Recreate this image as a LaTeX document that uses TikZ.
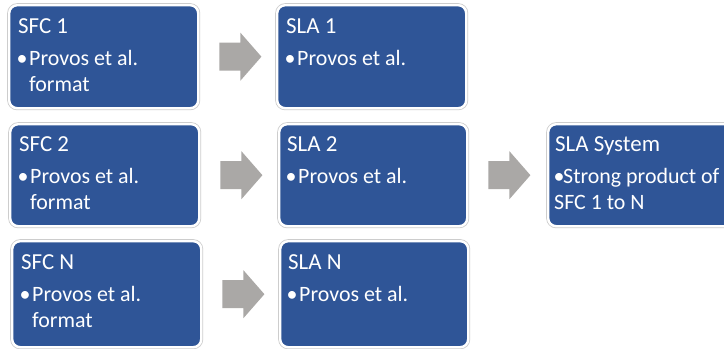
\documentclass[tikz,border=0pt]{standalone}
\usepackage{fontspec}
\setmainfont{Carlito}
\usetikzlibrary{calc}
\definecolor{boxblue}{RGB}{47,85,151}
\definecolor{arrgray}{RGB}{170,168,166}
\definecolor{rimgray}{RGB}{205,205,205}
\tikzset{
  box/.style={anchor=north west, rectangle, rounded corners=8bp, fill=boxblue,
    draw=white, line width=2.4bp, inner sep=0pt,
    preaction={draw=rimgray, line width=4bp}},
  ttl/.style={anchor=base west, inner sep=0pt, text=white, font=\fontsize{23}{27}\selectfont},
  bod/.style={anchor=base west, inner sep=0pt, text=white, font=\fontsize{22}{26}\selectfont},
  bul/.style={anchor=base, inner sep=0pt, text=white, font=\fontsize{22}{26}\selectfont},
}
\newcommand\blockarr[1]{%
  \fill[arrgray] ($(#1.east)+(20,14)$) -- ++(21,0) -- ++(0,10) -- ++(21,-24)
    -- ++(-21,-24) -- ++(0,10) -- ++(-21,0) -- cycle;}
\begin{document}
\begin{tikzpicture}[x=1bp,y=-1bp]
\useasboundingbox (0,0) rectangle (724,348);
\fill[white] (0,0) rectangle (724,348);
\clip (0,0) rectangle (724,348);
% boxes
\node[box, minimum width=189bp, minimum height=103bp] (sfc1) at (8,4) {};
\node[box, minimum width=189bp, minimum height=103bp] (sla1) at (276,4) {};
\node[box, minimum width=189bp, minimum height=102bp] (sfc2) at (9,123) {};
\node[box, minimum width=188bp, minimum height=102bp] (sla2) at (278,123) {};
\node[box, minimum width=189bp, minimum height=102bp] (sys) at (547,123) {};
\node[box, minimum width=189bp, minimum height=106bp] (sfcn) at (11,240) {};
\node[box, minimum width=188bp, minimum height=106bp] (slan) at (279,240) {};
% texts
\node[ttl] (sfc1t) at ($(sfc1.north west)+(10,29)$) {SFC 1};
\node[bul] (sfc1b) at ($(sfc1.north west)+(14,61)$) {•};
\node[bod] (sfc1x) at ($(sfc1.north west)+(21,61)$) {Provos et al.};
\node[bod] (sfc1y) at ($(sfc1.north west)+(21,87)$) {format};
\node[ttl] (sla1t) at ($(sla1.north west)+(10,29)$) {SLA 1};
\node[bul] (sla1b) at ($(sla1.north west)+(14,61)$) {•};
\node[bod] (sla1x) at ($(sla1.north west)+(21,61)$) {Provos et al.};
\node[ttl] (sfc2t) at ($(sfc2.north west)+(10,28)$) {SFC 2};
\node[bul] (sfc2b) at ($(sfc2.north west)+(14,60)$) {•};
\node[bod] (sfc2x) at ($(sfc2.north west)+(21,60)$) {Provos et al.};
\node[bod] (sfc2y) at ($(sfc2.north west)+(21,86)$) {format};
\node[ttl] (sla2t) at ($(sla2.north west)+(9,28)$) {SLA 2};
\node[bul] (sla2b) at ($(sla2.north west)+(13,60)$) {•};
\node[bod] (sla2x) at ($(sla2.north west)+(20,60)$) {Provos et al.};
\node[ttl] (syst) at ($(sys.north west)+(8,28)$) {SLA System};
\node[bul] (sysb) at ($(sys.north west)+(12,60)$) {•};
\node[bod] (sysx) at ($(sys.north west)+(16,60)$) {Strong product of};
\node[bod] (sysy) at ($(sys.north west)+(7,86)$) {SFC 1 to N};
\node[ttl] (sfcnt) at ($(sfcn.north west)+(10,29)$) {SFC N};
\node[bul] (sfcnb) at ($(sfcn.north west)+(14,61)$) {•};
\node[bod] (sfcnx) at ($(sfcn.north west)+(21,61)$) {Provos et al.};
\node[bod] (sfcny) at ($(sfcn.north west)+(21,87)$) {format};
\node[ttl] (slant) at ($(slan.north west)+(9,29)$) {SLA N};
\node[bul] (slanb) at ($(slan.north west)+(13,61)$) {•};
\node[bod] (slanx) at ($(slan.north west)+(20,61)$) {Provos et al.};
% block arrows
\blockarr{sfc1}
\blockarr{sfc2}
\blockarr{sfcn}
\blockarr{sla2}
\end{tikzpicture}
\end{document}
